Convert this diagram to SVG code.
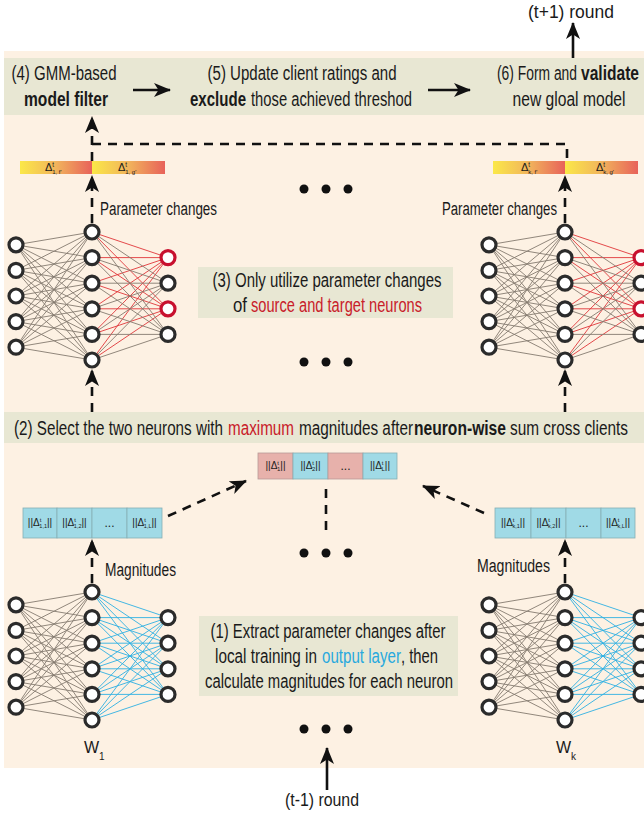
<svg xmlns="http://www.w3.org/2000/svg" xmlns:xlink="http://www.w3.org/1999/xlink" width="644" height="816" viewBox="0 0 644 816">
  <style>
    .txt { font-family: "Liberation Sans Narrow", "Liberation Sans", "DejaVu Sans Condensed", sans-serif; fill: #1a1a1a; }
    .big { font-size: 20px; }
    .mid { font-size: 18px; }
    .sm { font-size: 10px; }
    .b { font-weight: bold; }
    .red { fill: #c8202a; }
    .blue { fill: #29a9de; }
    .bar { fill: #e8e7d3; }
    .dash { fill: none; stroke: #111; stroke-width: 2.6; stroke-dasharray: 9 7; }
    .solid { fill: none; stroke: #111; stroke-width: 2.6; }
    .neuron { fill: #fff; stroke: #2b2b2b; stroke-width: 3.2; }
    .neuron-hot { fill: #fff; stroke: #c8102e; stroke-width: 3.2; }
    .w-gray { stroke: #857b6f; stroke-width: 0.9; fill: none; }
    .w-red { stroke: #e0373a; stroke-width: 0.9; fill: none; }
    .w-blue { stroke: #2fb0e2; stroke-width: 0.9; fill: none; }
    .dot { fill: #111; }
    .mag { fill: #a0dae6; stroke: #86aeb5; stroke-width: 0.8; }
    .magp { fill: #e7b1ab; stroke: #b89a98; stroke-width: 0.8; }
  </style>
  <defs>
    <marker id="ah" viewBox="0 0 17 14" refX="16" refY="7" markerWidth="17" markerHeight="14" markerUnits="userSpaceOnUse" orient="auto">
      <path d="M0,0 L17,7 L0,14 L4.5,7 Z" fill="#111"/>
    </marker>
    <linearGradient id="dg" x1="0" y1="0" x2="1" y2="0">
      <stop offset="0" stop-color="#fbe848"/>
      <stop offset="0.5" stop-color="#f1b45c"/>
      <stop offset="1" stop-color="#e8625a"/>
    </linearGradient>
    <!-- input layer to hidden layer weights, hidden top neuron at origin -->
    <path id="ih" d="M-76 12.8L0 0M-76 12.8L0 25.6M-76 12.8L0 51.2M-76 12.8L0 76.8M-76 12.8L0 102.4M-76 12.8L0 128
      M-76 38.4L0 0M-76 38.4L0 25.6M-76 38.4L0 51.2M-76 38.4L0 76.8M-76 38.4L0 102.4M-76 38.4L0 128
      M-76 64L0 0M-76 64L0 25.6M-76 64L0 51.2M-76 64L0 76.8M-76 64L0 102.4M-76 64L0 128
      M-76 89.6L0 0M-76 89.6L0 25.6M-76 89.6L0 51.2M-76 89.6L0 76.8M-76 89.6L0 102.4M-76 89.6L0 128
      M-76 115.2L0 0M-76 115.2L0 25.6M-76 115.2L0 51.2M-76 115.2L0 76.8M-76 115.2L0 102.4M-76 115.2L0 128"/>
    <!-- hidden to output neurons 1 and 3 -->
    <path id="hoA" d="M0 0L76 25.6M0 25.6L76 25.6M0 51.2L76 25.6M0 76.8L76 25.6M0 102.4L76 25.6M0 128L76 25.6
      M0 0L76 76.8M0 25.6L76 76.8M0 51.2L76 76.8M0 76.8L76 76.8M0 102.4L76 76.8M0 128L76 76.8"/>
    <!-- hidden to output neurons 2 and 4 -->
    <path id="hoB" d="M0 0L76 51.2M0 25.6L76 51.2M0 51.2L76 51.2M0 76.8L76 51.2M0 102.4L76 51.2M0 128L76 51.2
      M0 0L76 102.4M0 25.6L76 102.4M0 51.2L76 102.4M0 76.8L76 102.4M0 102.4L76 102.4M0 128L76 102.4"/>
    <g id="cells">
      <circle class="neuron" cx="-76" cy="12.8" r="7"/>
      <circle class="neuron" cx="-76" cy="38.4" r="7"/>
      <circle class="neuron" cx="-76" cy="64" r="7"/>
      <circle class="neuron" cx="-76" cy="89.6" r="7"/>
      <circle class="neuron" cx="-76" cy="115.2" r="7"/>
      <circle class="neuron" cx="0" cy="0" r="7"/>
      <circle class="neuron" cx="0" cy="25.6" r="7"/>
      <circle class="neuron" cx="0" cy="51.2" r="7"/>
      <circle class="neuron" cx="0" cy="76.8" r="7"/>
      <circle class="neuron" cx="0" cy="102.4" r="7"/>
      <circle class="neuron" cx="0" cy="128" r="7"/>
    </g>
    <g id="net-selected">
      <use xlink:href="#ih" class="w-gray"/>
      <use xlink:href="#hoA" class="w-red"/>
      <use xlink:href="#hoB" class="w-gray"/>
      <use xlink:href="#cells"/>
      <circle class="neuron-hot" cx="76" cy="25.6" r="7"/>
      <circle class="neuron" cx="76" cy="51.2" r="7"/>
      <circle class="neuron-hot" cx="76" cy="76.8" r="7"/>
      <circle class="neuron" cx="76" cy="102.4" r="7"/>
    </g>
    <g id="net-local">
      <use xlink:href="#ih" class="w-gray"/>
      <use xlink:href="#hoA" class="w-blue"/>
      <use xlink:href="#hoB" class="w-blue"/>
      <use xlink:href="#cells"/>
      <circle class="neuron" cx="76" cy="25.6" r="7"/>
      <circle class="neuron" cx="76" cy="51.2" r="7"/>
      <circle class="neuron" cx="76" cy="76.8" r="7"/>
      <circle class="neuron" cx="76" cy="102.4" r="7"/>
    </g>
  </defs>

  <!-- canvas -->
  <rect x="0" y="0" width="644" height="816" fill="#ffffff"/>
  <rect x="4" y="51" width="640" height="717" fill="#fdf1e3"/>

  <!-- top process bar -->
  <g id="step-bar-top">
    <rect class="bar" x="4" y="58" width="640" height="57"/>
  </g>
  <g id="step4">
    <text class="txt big" x="64" y="80" text-anchor="middle" textLength="105" lengthAdjust="spacingAndGlyphs">(4) GMM-based</text>
    <text class="txt big b" x="66" y="106" text-anchor="middle" textLength="84" lengthAdjust="spacingAndGlyphs">model filter</text>
  </g>
  <g id="step5">
    <text class="txt big" x="302" y="80" text-anchor="middle" textLength="189" lengthAdjust="spacingAndGlyphs">(5) Update client ratings and</text>
    <text class="txt big b" x="190" y="106" textLength="56" lengthAdjust="spacingAndGlyphs">exclude</text>
    <text class="txt big" x="251" y="106" textLength="161" lengthAdjust="spacingAndGlyphs">those achieved threshod</text>
  </g>
  <g id="step6">
    <text class="txt big" x="497" y="80" textLength="80" lengthAdjust="spacingAndGlyphs">(6) Form and</text>
    <text class="txt big b" x="581" y="80" textLength="58" lengthAdjust="spacingAndGlyphs">validate</text>
    <text class="txt big" x="569" y="106" text-anchor="middle" textLength="113" lengthAdjust="spacingAndGlyphs">new gloal model</text>
  </g>
  <g id="next-round">
    <text class="txt mid" x="571" y="18" text-anchor="middle" textLength="86" lengthAdjust="spacingAndGlyphs">(t+1) round</text>
  </g>

  <!-- selected parameter changes per client -->
  <g id="delta-client1">
    <rect x="20" y="161" width="72" height="13" fill="url(#dg)"/>
    <rect x="92" y="161" width="73" height="13" fill="url(#dg)"/>
    <text class="txt" font-size="11" x="45" y="171">Δ<tspan font-size="6.5" dy="-4">t</tspan><tspan font-size="6" dx="-2" dy="7">1, f'</tspan></text>
    <text class="txt" font-size="11" x="118" y="171">Δ<tspan font-size="6.5" dy="-4">t</tspan><tspan font-size="6" dx="-2" dy="7">1, g'</tspan></text>
  </g>
  <g id="delta-clientk">
    <rect x="493" y="161" width="72" height="13" fill="url(#dg)"/>
    <rect x="565" y="161" width="73" height="13" fill="url(#dg)"/>
    <text class="txt" font-size="11" x="521" y="171">Δ<tspan font-size="6.5" dy="-4">t</tspan><tspan font-size="6" dx="-2" dy="7">k, f'</tspan></text>
    <text class="txt" font-size="11" x="596" y="171">Δ<tspan font-size="6.5" dy="-4">t</tspan><tspan font-size="6" dx="-2" dy="7">k, g'</tspan></text>
  </g>
  <text class="txt mid" x="100" y="215" textLength="117" lengthAdjust="spacingAndGlyphs">Parameter changes</text>
  <text class="txt mid" x="442" y="215" textLength="115" lengthAdjust="spacingAndGlyphs">Parameter changes</text>

  <!-- networks restricted to source/target neurons -->
  <g id="net-top-client1" transform="translate(92,232)"><use xlink:href="#net-selected"/></g>
  <g id="net-top-clientk" transform="translate(565,232)"><use xlink:href="#net-selected"/></g>

  <g id="step3">
    <rect class="bar" x="198" y="267" width="255" height="51"/>
    <text class="txt big" x="327" y="287" text-anchor="middle" textLength="229" lengthAdjust="spacingAndGlyphs">(3) Only utilize parameter changes</text>
    <text class="txt big" x="233" y="312" textLength="14" lengthAdjust="spacingAndGlyphs">of</text>
    <text class="txt big red" x="251" y="312" textLength="171" lengthAdjust="spacingAndGlyphs">source and target neurons</text>
  </g>

  <!-- neuron selection bar -->
  <g id="step2">
    <rect class="bar" x="4" y="412" width="640" height="31"/>
    <text class="txt big" x="14" y="435" textLength="209" lengthAdjust="spacingAndGlyphs">(2) Select the two neurons with</text>
    <text class="txt big red" x="228" y="435" textLength="66" lengthAdjust="spacingAndGlyphs">maximum</text>
    <text class="txt big" x="299" y="435" textLength="114" lengthAdjust="spacingAndGlyphs">magnitudes after</text>
    <text class="txt big b" x="414" y="435" textLength="92" lengthAdjust="spacingAndGlyphs">neuron-wise</text>
    <text class="txt big" x="510" y="435" textLength="118" lengthAdjust="spacingAndGlyphs">sum cross clients</text>
  </g>

  <!-- summed magnitudes across clients -->
  <g id="mag-sum">
    <rect class="magp" x="258" y="453" width="35" height="26"/>
    <rect class="mag" x="293" y="453" width="35" height="26"/>
    <rect class="magp" x="328" y="453" width="35" height="26"/>
    <rect class="mag" x="363" y="453" width="34" height="26"/>
    <text class="txt sm" x="275.5" y="469" text-anchor="middle">||Δ<tspan font-size="6" dy="-4">t</tspan><tspan font-size="6" dx="-2" dy="6">1</tspan><tspan dy="-2">||</tspan></text>
    <text class="txt sm" x="310.5" y="469" text-anchor="middle">||Δ<tspan font-size="6" dy="-4">t</tspan><tspan font-size="6" dx="-2" dy="6">2</tspan><tspan dy="-2">||</tspan></text>
    <text class="txt" font-size="12" x="345.5" y="470" text-anchor="middle">...</text>
    <text class="txt sm" x="380" y="469" text-anchor="middle">||Δ<tspan font-size="6" dy="-4">t</tspan><tspan font-size="6" dx="-2" dy="6">L</tspan><tspan dy="-2">||</tspan></text>
  </g>

  <!-- per-client magnitudes -->
  <g id="mag-client1">
    <rect class="mag" x="23" y="508" width="34" height="30"/>
    <rect class="mag" x="57" y="508" width="35" height="30"/>
    <rect class="mag" x="92" y="508" width="35" height="30"/>
    <rect class="mag" x="127" y="508" width="35" height="30"/>
    <text class="txt sm" x="40" y="526" text-anchor="middle">||Δ<tspan font-size="6" dy="-4">t</tspan><tspan font-size="5.5" dx="-2" dy="6">1,1</tspan><tspan dy="-2">||</tspan></text>
    <text class="txt sm" x="74.5" y="526" text-anchor="middle">||Δ<tspan font-size="6" dy="-4">t</tspan><tspan font-size="5.5" dx="-2" dy="6">1,2</tspan><tspan dy="-2">||</tspan></text>
    <text class="txt" font-size="12" x="109.5" y="527" text-anchor="middle">...</text>
    <text class="txt sm" x="144.5" y="526" text-anchor="middle">||Δ<tspan font-size="6" dy="-4">t</tspan><tspan font-size="5.5" dx="-2" dy="6">1,L</tspan><tspan dy="-2">||</tspan></text>
  </g>
  <g id="mag-clientk">
    <rect class="mag" x="495" y="508" width="36" height="30"/>
    <rect class="mag" x="531" y="508" width="35" height="30"/>
    <rect class="mag" x="566" y="508" width="35" height="30"/>
    <rect class="mag" x="601" y="508" width="34" height="30"/>
    <text class="txt sm" x="513" y="526" text-anchor="middle">||Δ<tspan font-size="6" dy="-4">t</tspan><tspan font-size="5.5" dx="-2" dy="6">k,1</tspan><tspan dy="-2">||</tspan></text>
    <text class="txt sm" x="548.5" y="526" text-anchor="middle">||Δ<tspan font-size="6" dy="-4">t</tspan><tspan font-size="5.5" dx="-2" dy="6">k,2</tspan><tspan dy="-2">||</tspan></text>
    <text class="txt" font-size="12" x="583.5" y="527" text-anchor="middle">...</text>
    <text class="txt sm" x="618" y="526" text-anchor="middle">||Δ<tspan font-size="6" dy="-4">t</tspan><tspan font-size="5.5" dx="-2" dy="6">k,L</tspan><tspan dy="-2">||</tspan></text>
  </g>
  <text class="txt mid" x="105" y="576" textLength="71" lengthAdjust="spacingAndGlyphs">Magnitudes</text>
  <text class="txt mid" x="477" y="572" textLength="73" lengthAdjust="spacingAndGlyphs">Magnitudes</text>

  <!-- local output-layer networks -->
  <g id="net-bottom-client1" transform="translate(92,592)"><use xlink:href="#net-local"/></g>
  <g id="net-bottom-clientk" transform="translate(565,592)"><use xlink:href="#net-local"/></g>
  <g id="label-w1">
    <text class="txt" font-size="16" x="84" y="753">W<tspan font-size="10" dy="7">1</tspan></text>
  </g>
  <g id="label-wk">
    <text class="txt" font-size="16" x="556" y="753">W<tspan font-size="10" dy="7">k</tspan></text>
  </g>

  <g id="step1">
    <rect class="bar" x="199" y="616" width="259" height="80"/>
    <text class="txt big" x="328" y="638" text-anchor="middle" textLength="235" lengthAdjust="spacingAndGlyphs">(1) Extract parameter changes after</text>
    <text class="txt big" x="215" y="663" textLength="102" lengthAdjust="spacingAndGlyphs">local training in</text>
    <text class="txt big blue" x="322" y="663" textLength="79" lengthAdjust="spacingAndGlyphs">output layer</text>
    <text class="txt big" x="401" y="663" textLength="37" lengthAdjust="spacingAndGlyphs">, then</text>
    <text class="txt big" x="329" y="688" text-anchor="middle" textLength="248" lengthAdjust="spacingAndGlyphs">calculate magnitudes for each neuron</text>
  </g>

  <g id="prev-round">
    <text class="txt mid" x="322" y="806" text-anchor="middle" textLength="74" lengthAdjust="spacingAndGlyphs">(t-1) round</text>
  </g>

  <!-- ellipses for the omitted clients -->
  <g id="ellipses">
    <circle class="dot" cx="304" cy="189" r="4.5"/><circle class="dot" cx="326" cy="189" r="4.5"/><circle class="dot" cx="348" cy="189" r="4.5"/>
    <circle class="dot" cx="304" cy="362" r="4.5"/><circle class="dot" cx="326" cy="362" r="4.5"/><circle class="dot" cx="348" cy="362" r="4.5"/>
    <circle class="dot" cx="304" cy="553" r="4.5"/><circle class="dot" cx="326" cy="553" r="4.5"/><circle class="dot" cx="348" cy="553" r="4.5"/>
    <circle class="dot" cx="304" cy="729" r="4.5"/><circle class="dot" cx="326" cy="729" r="4.5"/><circle class="dot" cx="348" cy="729" r="4.5"/>
  </g>

  <!-- connectors -->
  <g id="connectors">
    <path class="solid" d="M133,90 H170" marker-end="url(#ah)"/>
    <path class="solid" d="M428,90 H470" marker-end="url(#ah)"/>
    <path class="solid" d="M573,58 V23" marker-end="url(#ah)"/>
    <path class="solid" d="M327,790 V748" marker-end="url(#ah)"/>

    <path class="dash" d="M92,161 V117" marker-end="url(#ah)"/>
    <path class="dash" d="M92,144 H567 V161"/>
    <path class="dash" d="M92,223 V176" marker-end="url(#ah)"/>
    <path class="dash" d="M565,223 V176" marker-end="url(#ah)"/>

    <path class="dash" d="M92,412 V370" marker-end="url(#ah)"/>
    <path class="dash" d="M565,412 V370" marker-end="url(#ah)"/>

    <path class="dash" d="M168,516 L246,481" marker-end="url(#ah)"/>
    <path class="dash" d="M484,513 L423,486" marker-end="url(#ah)"/>
    <path class="dash" d="M326,530 V486"/>

    <path class="dash" d="M92,583 V540" marker-end="url(#ah)"/>
    <path class="dash" d="M565,583 V540" marker-end="url(#ah)"/>
  </g>
</svg>
